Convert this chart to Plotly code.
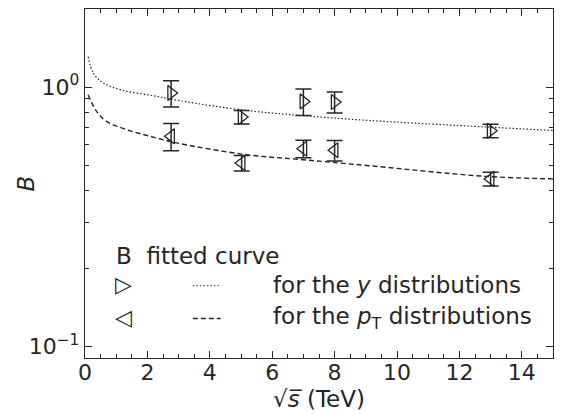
import plotly.graph_objects as go
import numpy as np

# Data points
sqrt_s = [2.76, 5.02, 7.0, 8.0, 13.0]
B_y = [0.948, 0.766, 0.880, 0.875, 0.678]
B_y_err = [0.110, 0.046, 0.103, 0.082, 0.041]
B_pt = [0.645, 0.509, 0.578, 0.570, 0.442]
B_pt_err = [0.078, 0.035, 0.045, 0.052, 0.027]

# Fitted curves
fit_y_x = [0.1, 0.27, 0.59, 1.22, 2.18, 3.04, 5.18, 7.0, 9.1, 12.85, 15.0]
fit_y_B = [1.31, 1.13, 1.036, 0.970, 0.926, 0.885, 0.812, 0.775, 0.743, 0.701, 0.680]
fit_pt_x = [0.1, 0.37, 0.69, 1.33, 2.18, 3.04, 5.18, 7.0, 9.1, 12.85, 15.0]
fit_pt_B = [0.934, 0.805, 0.737, 0.685, 0.641, 0.605, 0.548, 0.524, 0.497, 0.452, 0.442]

x_ticks = [0, 2, 4, 6, 8, 10, 12, 14]
y_ticks = [0.1, 1.0]
y_ticktext = ["10<sup>\u22121</sup>", "10<sup>0</sup>"]
y_minor = [0.2, 0.3, 0.4, 0.5, 0.6, 0.7, 0.8, 0.9, 2.0]

INK = "#262626"
FONT = "DejaVu Sans"
DOT = "1.5px,2px"
DASH = "5px,3px"

fig = go.Figure()

fig.add_trace(go.Scatter(x=fit_y_x, y=fit_y_B, mode="lines", line=dict(color=INK, width=1.2, dash=DOT, shape="spline"), showlegend=False))
fig.add_trace(go.Scatter(x=fit_pt_x, y=fit_pt_B, mode="lines", line=dict(color=INK, width=1.4, dash=DASH, shape="spline"), showlegend=False))

fig.add_trace(go.Scatter(x=sqrt_s, y=B_y, mode="markers",
                         marker=dict(symbol="triangle-right-open", size=13, color=INK, line=dict(width=1.3, color=INK)),
                         error_y=dict(type="data", array=B_y_err, visible=True, color=INK, thickness=1.5, width=8),
                         showlegend=False))
fig.add_trace(go.Scatter(x=sqrt_s, y=B_pt, mode="markers",
                         marker=dict(symbol="triangle-left-open", size=13, color=INK, line=dict(width=1.3, color=INK)),
                         error_y=dict(type="data", array=B_pt_err, visible=True, color=INK, thickness=1.5, width=8),
                         showlegend=False))

# Manual legend
fig.add_annotation(xref="paper", yref="paper", x=0.062, y=0.293, text="B  fitted curve", showarrow=False,
                   xanchor="left", yanchor="middle", font=dict(family=FONT, size=23, color=INK))
fig.add_annotation(xref="paper", yref="paper", x=0.083, y=0.212, text="\u25b7", showarrow=False,
                   xanchor="center", yanchor="middle", font=dict(family=FONT, size=22, color=INK))
fig.add_annotation(xref="paper", yref="paper", x=0.083, y=0.117, text="\u25c1", showarrow=False,
                   xanchor="center", yanchor="middle", font=dict(family=FONT, size=22, color=INK))
fig.add_annotation(xref="paper", yref="paper", x=0.398, y=0.21, text="for the <i>y</i> distributions", showarrow=False,
                   xanchor="left", yanchor="middle", font=dict(family=FONT, size=23, color=INK))
fig.add_annotation(xref="paper", yref="paper", x=0.398, y=0.1155, text="for the <i>p</i><sub>T</sub> distributions", showarrow=False,
                   xanchor="left", yanchor="middle", font=dict(family=FONT, size=23, color=INK))
fig.add_shape(type="line", xref="paper", yref="paper", x0=0.2305, x1=0.290, y0=0.207, y1=0.207,
              line=dict(color=INK, width=1.2, dash=DOT))
fig.add_shape(type="line", xref="paper", yref="paper", x0=0.2305, x1=0.290, y0=0.113, y1=0.113,
              line=dict(color=INK, width=1.4, dash=DASH))

# Axis titles
fig.add_annotation(xref="paper", yref="paper", x=0.50, y=-0.118, text="\u221a<i>s\u0305</i> (TeV)", showarrow=False,
                   xanchor="center", yanchor="middle", font=dict(family=FONT, size=23, color=INK))
fig.add_annotation(xref="paper", yref="paper", x=-0.128, y=0.50, text="<i>B</i>", showarrow=False, textangle=-90,
                   xanchor="center", yanchor="middle", font=dict(family=FONT, size=23, color=INK))

fig.update_layout(
    width=565, height=414,
    margin=dict(l=85, r=12, t=9, b=56),
    paper_bgcolor="white", plot_bgcolor="white",
    font=dict(family=FONT, color=INK, size=22),
)
fig.update_xaxes(range=[0, 15], tickvals=x_ticks, ticks="inside", ticklen=7, tickwidth=1.2, tickcolor=INK,
                 minor=dict(dtick=0.5, ticks="inside", ticklen=4, tickwidth=1, tickcolor=INK),
                 showline=True, linecolor=INK, linewidth=1.4, mirror="ticks", showgrid=False, zeroline=False,
                 tickfont=dict(family=FONT, size=22, color=INK), automargin=False, ticklabelstandoff=-6)
fig.update_yaxes(type="log", range=[np.log10(0.09), np.log10(2.0)], tickvals=y_ticks, ticktext=y_ticktext,
                 ticks="inside", ticklen=7, tickwidth=1.2, tickcolor=INK,
                 minor=dict(tickvals=y_minor, ticks="inside", ticklen=4, tickwidth=1, tickcolor=INK),
                 showline=True, linecolor=INK, linewidth=1.4, mirror="ticks", showgrid=False, zeroline=False,
                 tickfont=dict(family=FONT, size=22, color=INK), automargin=False)

fig.write_html("out.html")
